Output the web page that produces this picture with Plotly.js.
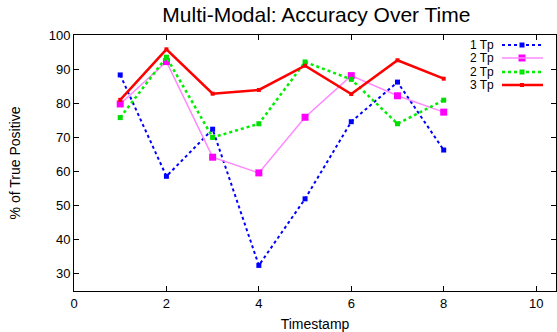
<!DOCTYPE html>
<html><head><meta charset="utf-8">
<script src="https://cdn.plot.ly/plotly-3.0.1.min.js"></script>
<style>html,body{margin:0;padding:0;background:#fff}#c{width:557px;height:332px}</style>
</head><body><div id="c"></div>
<script>
const timestamps = [1,2,3,4,5,6,7,8];
const seriesNames = ["1 Tp","2 Tp","2 Tp","3 Tp"];
const tp1 = [88.3,58.6,72.4,32.5,52.0,74.6,86.2,66.3];
const tp2a = [79.8,92.2,64.2,59.6,75.9,88.1,82.2,77.4];
const tp2b = [75.8,93.5,70.0,74.0,92.1,87.0,74.0,80.9];
const tp3 = [81.0,95.8,82.8,83.9,91.0,82.7,92.6,87.2];
const xTicks = [0,2,4,6,8,10];
const yTicks = [30,40,50,60,70,80,90,100];

const styles = [
  {color:'#0000ff', dash:'dot', width:2, msize:5, lcolor:'#0000ff'},
  {color:'#ff00ff', dash:'solid', width:1.5, msize:7, lcolor:'#ff88ff'},
  {color:'#00dd00', dash:'dot', width:2.5, msize:5, lcolor:'#00ee00'},
  {color:'#ff0000', dash:'solid', width:2.5, msize:4, lcolor:'#ff0000'}
];
const values = [tp1,tp2a,tp2b,tp3];
const traces = values.map((v,i)=>({
  x: timestamps, y: v, type:'scatter', mode:'lines+markers', name: seriesNames[i],
  line:{color:styles[i].lcolor, dash:styles[i].dash, width:styles[i].width},
  marker:{symbol:'square', size:styles[i].msize, color:styles[i].color},
  showlegend:false
}));

// custom gnuplot-style legend (text on the left, sample on the right)
const annotations = [];
const shapes = [];
const rowY = [45,58,72,85];
seriesNames.forEach((n,i)=>{
  const yp = 1 - (rowY[i]-35)/256;
  annotations.push({xref:'paper', yref:'paper', x:(496-74)/482, y:yp, text:n, showarrow:false,
    xanchor:'right', yanchor:'middle', font:{family:'Liberation Sans, Arial, sans-serif', size:12, color:'#000'}});
  shapes.push({type:'line', xref:'paper', yref:'paper', x0:(502-74)/482, x1:(543-74)/482, y0:yp, y1:yp,
    line:{color:styles[i].lcolor, dash:styles[i].dash, width:styles[i].width}});
  traces.push({x:[(522-74)/482], y:[yp], xaxis:'x2', yaxis:'y2', type:'scatter', mode:'markers',
    marker:{symbol:'square', size:styles[i].msize, color:styles[i].color}, showlegend:false, hoverinfo:'skip'});
});

const font = {family:'Liberation Sans, Arial, sans-serif', size:13, color:'#000'};
const layout = {
  width:557, height:332,
  margin:{l:74, r:1, t:35, b:41},
  paper_bgcolor:'#fff', plot_bgcolor:'#fff',
  font: font,
  title:{text:'Multi-Modal: Accuracy Over Time', x:0.568, xanchor:'center', y:0.955, yanchor:'middle',
    font:{family:'Liberation Sans, Arial, sans-serif', size:21, color:'#000'}},
  xaxis:{range:[0,10.43], tickvals:xTicks, ticktext:xTicks.map(String), showgrid:false, zeroline:false,
    showline:true, linecolor:'#000', linewidth:1, mirror:'ticks', ticks:'inside', ticklen:5, tickcolor:'#000',
    title:{text:'Timestamp', font:{family:'Liberation Sans, Arial, sans-serif', size:14, color:'#000'}, standoff:9}},
  yaxis:{range:[25,100], tickvals:yTicks, ticktext:yTicks.map(String), showgrid:false, zeroline:false,
    showline:true, linecolor:'#000', linewidth:1, mirror:'ticks', ticks:'inside', ticklen:5, tickcolor:'#000',
    title:{text:'% of True Positive', font:{family:'Liberation Sans, Arial, sans-serif', size:14, color:'#000'}, standoff:24}},
  xaxis2:{overlaying:'x', range:[0,1], visible:false},
  yaxis2:{overlaying:'y', range:[0,1], visible:false},
  annotations: annotations,
  shapes: shapes
};
Plotly.newPlot('c', traces, layout, {staticPlot:true, displayModeBar:false});
</script></body></html>
